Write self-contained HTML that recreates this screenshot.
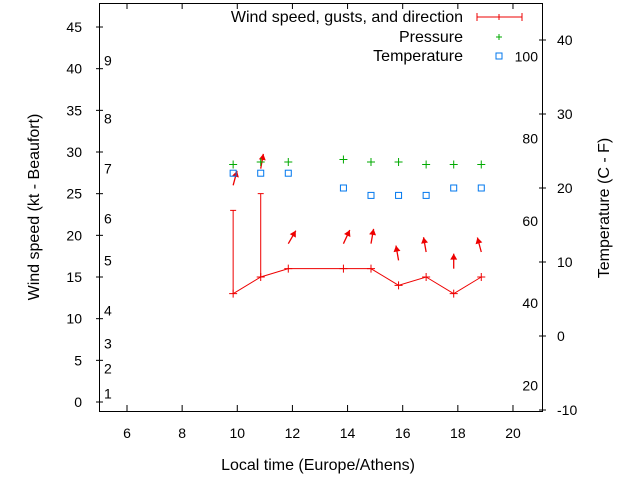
<!DOCTYPE html>
<html><head><meta charset="utf-8"><style>
html,body{margin:0;padding:0;background:#fff;}
svg{display:block;font-family:"Liberation Sans",sans-serif;font-size:14px;}
.big{font-size:16px;}
</style></head><body>
<svg id="c" width="640" height="480" viewBox="0 0 640 480">
<rect width="640" height="480" fill="#fff"/>
<rect x="99.5" y="3.5" width="443" height="408" fill="none" stroke="#000"/>
<g id="axes"></g>
<g id="data"></g>
<text class="big" x="39" y="207" transform="rotate(-90 39 207)" text-anchor="middle">Wind speed (kt - Beaufort)</text>
<text class="big" x="609" y="208" transform="rotate(-90 609 208)" text-anchor="middle">Temperature (C - F)</text>
<text class="big" x="318" y="470" text-anchor="middle">Local time (Europe/Athens)</text>
<g>
<text class="big" x="463" y="22" text-anchor="end">Wind speed, gusts, and direction</text>
<path d="M477 17H522M477 13V21M522 13V21M499 14V20" stroke="#e00" fill="none"/>
<text class="big" x="463" y="42" text-anchor="end">Pressure</text>
<path d="M496 37H502M499 34V40" stroke="#0a0"/>
<text class="big" x="463" y="61" text-anchor="end">Temperature</text>
<rect x="496" y="53" width="6" height="6" fill="none" stroke="#07e"/>
</g>
</svg>
<script>
const hours=[9.85,10.85,11.85,13.85,14.85,15.85,16.85,17.85,18.85];
const wind=[13,15,16,16,16,14,15,13,15];
const gusts=[23,25,null,null,null,null,null,null,null];
const dirs=[15,10,30,25,10,-10,-10,0,-15];
const temps=[22,22,22,20,19,19,19,20,20];
const pressure=[1012,1013,1013,1014,1013,1013,1012,1012,1012];
const xTicks=[6,8,10,12,14,16,18,20];
const yTicks=[0,5,10,15,20,25,30,35,40,45];
const y2Ticks=[-10,0,10,20,30,40];
const fTicks=[20,40,60,80,100];
const beaufort=[[1,1],[2,4],[3,7],[4,11],[5,17],[6,22],[7,28],[8,34],[9,41]];

const NS='http://www.w3.org/2000/svg';
const X=h=>127+(h-6)*27.57;
const Y=v=>402-v*8.333;
const YC=c=>410-(c+10)*7.4;
const YP=p=>162-(p-1013)*2.5;
const ax=document.getElementById('axes'),dg=document.getElementById('data');
function mk(p,tag,a,txt){const e=document.createElementNS(NS,tag);for(const k in a)e.setAttribute(k,a[k]);if(txt!=null)e.textContent=txt;p.appendChild(e);return e;}

xTicks.forEach(t=>{const x=X(t);
const l=mk(ax,'path',{d:`M${x} 411V405M${x} 3V9`,stroke:'#000'});


const tx=mk(ax,'text',{x:x,y:438,'text-anchor':'middle'},t);

});
yTicks.forEach(t=>{const y=Y(t);
const l=mk(ax,'path',{d:`M96 ${y}H103`,stroke:'#000'});


const tx=mk(ax,'text',{x:82,y:y+5,'text-anchor':'end'},t);

});
y2Ticks.forEach(t=>{const y=YC(t);
const l=mk(ax,'path',{d:`M539 ${y}H546`,stroke:'#000'});


const tx=mk(ax,'text',{x:557,y:y+5},t);

});
fTicks.forEach(f=>{const y=YC((f-32)*5/9);
const tx=mk(ax,'text',{x:538,y:y+5,'text-anchor':'end'},f);

});
beaufort.forEach(b=>{
const tx=mk(ax,'text',{x:104,y:Y(b[1])+5},b[0]);

});

let d='';hours.forEach((h,i)=>{d+=(i?'L':'M')+X(h)+' '+Y(wind[i]);});
const ln=mk(dg,'path',{d:d,stroke:'#e00',fill:'none'});


hours.forEach((h,i)=>{const x=X(h),y=Y(wind[i]);
const p=mk(dg,'path',{d:`M${x-4} ${y}H${x+4}M${x} ${y-4}V${y+4}`,stroke:'#e00'});


let top=y;
if(gusts[i]!=null){top=Y(gusts[i]);
const g=mk(dg,'path',{d:`M${x} ${y}V${top}M${x-3} ${top}H${x+3}`,stroke:'#e00'});

}
const ty=top-25,a=dirs[i]*Math.PI/180,L=15;
const hx=x+Math.sin(a)*L,hy=ty-Math.cos(a)*L;
const ar=mk(dg,'g',{});


mk(ar,'line',{x1:x,y1:ty,x2:hx,y2:hy,stroke:'#e00','stroke-width':1.3});
const px=Math.cos(a),py=Math.sin(a),bx=x+Math.sin(a)*(L-6),by=ty-Math.cos(a)*(L-6);
mk(ar,'path',{d:`M${hx} ${hy}L${bx+px*3.5} ${by+py*3.5}L${bx-px*3.5} ${by-py*3.5}Z`,fill:'#e00'});
const pp=mk(dg,'path',{d:`M${x-4} ${YP(pressure[i])}H${x+4}M${x} ${YP(pressure[i])-4}V${YP(pressure[i])+4}`,stroke:'#0a0'});


const sq=mk(dg,'rect',{x:x-3,y:YC(temps[i])-3,width:6,height:6,fill:'none',stroke:'#07e'});


});
</script>
</body></html>
